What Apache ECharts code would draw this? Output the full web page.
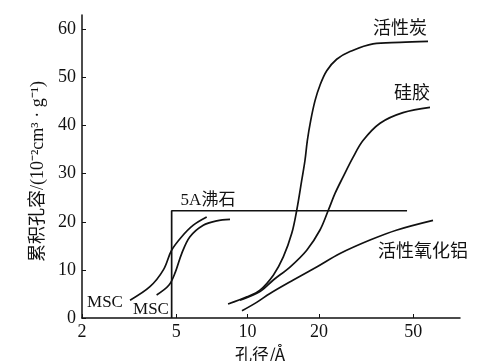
<!DOCTYPE html>
<html>
<head>
<meta charset="utf-8">
<script src="https://cdn.jsdelivr.net/npm/echarts@6/dist/echarts.min.js"></script>
<style>html,body{margin:0;padding:0;background:#fff;}#c{width:501px;height:361px;}</style>
</head>
<body>
<div id="c"></div>
<script>
// Tick labels
const xTicks = [2, 5, 10, 20, 50];
const yTicks = [0, 10, 20, 30, 40, 50, 60];

// Series data: [pore diameter (Å), cumulative pore volume (10^-2 cm3/g)]
const activatedCarbon = [[8.27,2.9],[9.94,4.4],[11.28,5.8],[12.84,8.9],[14.15,12.7],[15.36,17.6],[16.12,22.4],[16.92,28.6],[17.47,32.8],[17.87,36.9],[18.47,41.1],[19.26,45.2],[20.21,48.4],[21.58,51.4],[23.77,53.8],[27.05,55.4],[33.83,57.0],[43.99,57.3],[57.75,57.5]];
const silicaGel = [[9.29,3.7],[11.28,5.5],[12.84,7.9],[15.1,10.6],[17.77,14.1],[20.21,18.3],[21.91,22.4],[23.39,25.9],[25.27,29.3],[27.86,33.4],[30.7,36.9],[36.23,40.5],[45.29,42.7],[58.88,43.8]];
const activatedAlumina = [[9.47,1.5],[10.96,3.3],[12.43,5.1],[15.59,7.9],[19.57,10.6],[24.55,13.4],[32.86,16.2],[42.72,18.3],[60.62,20.3]];
const zeolite5A = [[4.78,0],[4.78,22.3],[47.1,22.3]];
const msc1 = [[3.19,3.7],[3.87,6.5],[4.41,10.0],[4.78,14.1],[5.27,16.9],[5.9,19.3],[6.72,21.0]];
const msc2 = [[4.13,4.8],[4.65,6.8],[4.96,9.6],[5.27,13.4],[5.71,16.9],[6.5,19.3],[7.41,20.2],[8.43,20.5]];

const serif = "'Liberation Serif','Noto Sans CJK SC',serif";
const cjk = "'Noto Sans CJK SC','Liberation Serif',sans-serif";
const ink = '#111';

function line(data, smooth) {
  return {
    type: 'line', data: data, smooth: smooth, symbol: 'none',
    lineStyle: { color: ink, width: 1.7 }, silent: true
  };
}

const chart = echarts.init(document.getElementById('c'), null, { renderer: 'canvas' });
chart.setOption({
  animation: false,
  backgroundColor: '#fff',
  grid: { left: 82, right: 41, top: 15, bottom: 43, outerBoundsMode: 'none' },
  xAxis: {
    type: 'log', logBase: 10, min: 2, max: 78.8,
    name: '孔径/Å', nameLocation: 'middle', nameGap: 24,
    nameTextStyle: { fontFamily: cjk, fontSize: 17, color: ink, padding: [0, 22, 0, 0] },
    axisLine: { lineStyle: { color: ink, width: 1.5 } },
    axisTick: { inside: true, length: 4, customValues: xTicks, lineStyle: { color: ink } },
    axisLabel: { customValues: xTicks, fontFamily: serif, fontSize: 18, color: ink, margin: 5 },
    splitLine: { show: false }, minorTick: { show: false }
  },
  yAxis: {
    type: 'value', min: 0, max: 63,
    name: '累积孔容/(10⁻²cm³ · g⁻¹)', nameLocation: 'middle', nameRotate: 90, nameGap: 33,
    nameTextStyle: { fontFamily: serif, fontSize: 18, color: ink, padding: [0, 10, 0, 0] },
    axisLine: { lineStyle: { color: ink, width: 1.5 } },
    axisTick: { inside: true, length: 4, customValues: yTicks, lineStyle: { color: ink } },
    axisLabel: { customValues: yTicks, fontFamily: serif, fontSize: 18, color: ink, margin: 6 },
    splitLine: { show: false }
  },
  series: [
    line(activatedCarbon, 0.35),
    line(silicaGel, 0.35),
    line(activatedAlumina, 0.35),
    line(zeolite5A, false),
    line(msc1, 0.35),
    line(msc2, 0.35)
  ],
  graphic: [
    { type: 'text', x: 400, y: 27, style: { text: '活性炭', font: "18px 'Noto Sans CJK SC'", fill: ink, align: 'center', verticalAlign: 'middle' } },
    { type: 'text', x: 412, y: 92, style: { text: '硅胶', font: "18px 'Noto Sans CJK SC'", fill: ink, align: 'center', verticalAlign: 'middle' } },
    { type: 'text', x: 423, y: 250, style: { text: '活性氧化铝', font: "18px 'Noto Sans CJK SC'", fill: ink, align: 'center', verticalAlign: 'middle' } },
    { type: 'text', x: 208, y: 201, style: { text: '5A沸石', font: "17px 'Liberation Serif','Noto Sans CJK SC'", fill: ink, align: 'center', verticalAlign: 'middle' } },
    { type: 'text', x: 105, y: 303, style: { text: 'MSC', font: "17px 'Liberation Serif'", fill: ink, align: 'center', verticalAlign: 'middle' } },
    { type: 'text', x: 151, y: 310, style: { text: 'MSC', font: "17px 'Liberation Serif'", fill: ink, align: 'center', verticalAlign: 'middle' } }
  ]
});
</script>
</body>
</html>
